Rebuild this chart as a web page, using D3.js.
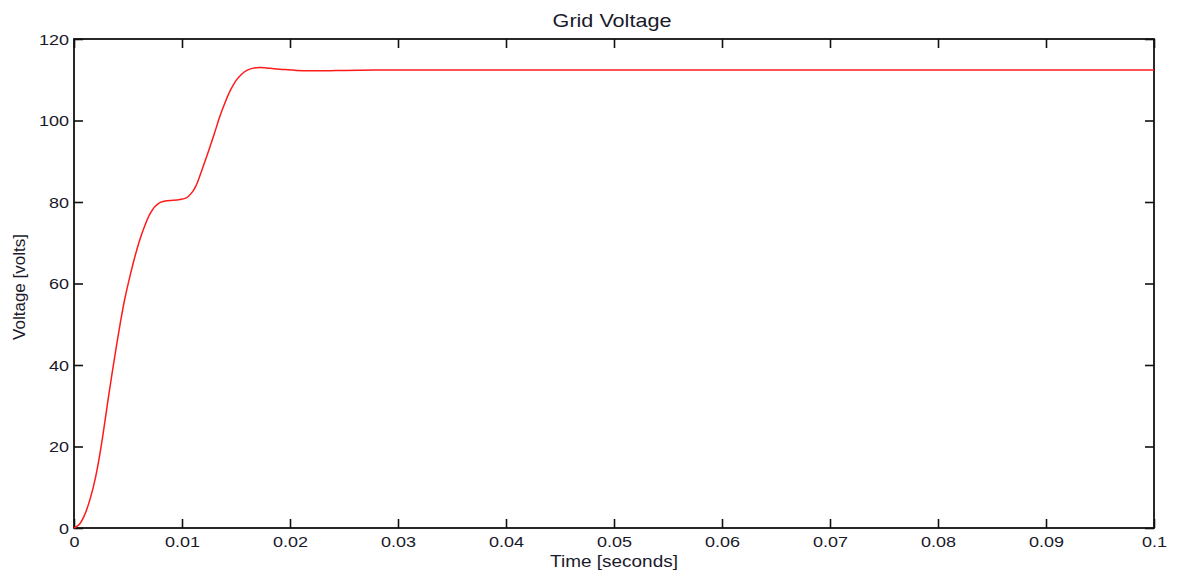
<!DOCTYPE html>
<html><head><meta charset="utf-8">
<script src="https://cdn.jsdelivr.net/npm/d3@7"></script>
<style>
html,body{margin:0;padding:0;background:#fff;}
text{font-family:"Liberation Sans",Arial,sans-serif;fill:#1a1a2a;}
</style></head>
<body><svg id="c" width="1177" height="572"></svg>
<script>
const times = [0, 0.0005, 0.001, 0.0015, 0.002, 0.0024, 0.0027, 0.0031, 0.0035, 0.0039, 0.0043, 0.0047, 0.0052, 0.0056, 0.0061, 0.0066, 0.007, 0.0075, 0.008, 0.0086, 0.0092, 0.0098, 0.0104, 0.011, 0.0113, 0.0116, 0.012, 0.0125, 0.013, 0.0135, 0.014, 0.0145, 0.015, 0.0155, 0.016, 0.0166, 0.0172, 0.0178, 0.0185, 0.0195, 0.0206, 0.022, 0.0234, 0.025, 0.028, 0.035, 0.05, 0.1];
const volts = [0, 0.9, 3.3, 7.2, 12.5, 18.2, 23.2, 30.5, 37.5, 44.2, 50.5, 56.2, 62.0, 66.2, 70.8, 74.5, 76.9, 78.9, 79.9, 80.3, 80.4, 80.6, 81.0, 82.6, 84.0, 86.0, 89.0, 92.8, 96.8, 101.0, 104.5, 107.5, 109.8, 111.3, 112.3, 112.85, 113.0, 112.9, 112.7, 112.5, 112.3, 112.2, 112.2, 112.3, 112.4, 112.4, 112.4, 112.4];
const xTicks = [0,0.01,0.02,0.03,0.04,0.05,0.06,0.07,0.08,0.09,0.1];
const xTickLabels = ["0","0.01","0.02","0.03","0.04","0.05","0.06","0.07","0.08","0.09","0.1"];
const yTicks = [0,20,40,60,80,100,120];
const chartTitle = "Grid Voltage";
const xLabel = "Time [seconds]";
const yLabel = "Voltage [volts]";

const L=74, R=1154, T=39, B=528;
const svg = d3.select("#c");
const x = d3.scaleLinear().domain([0,0.1]).range([L,R]);
const y = d3.scaleLinear().domain([0,120]).range([B,T]);
const tl = 9;

const axB = d3.axisBottom(x).tickValues(xTicks).tickFormat((d,i)=>xTickLabels[i]).tickSizeInner(-tl).tickSizeOuter(0);
const axT = d3.axisTop(x).tickValues(xTicks).tickFormat("").tickSizeInner(-tl).tickSizeOuter(0);
const axL = d3.axisLeft(y).tickValues(yTicks).tickSizeInner(-tl).tickSizeOuter(0);
const axR = d3.axisRight(y).tickValues(yTicks).tickFormat("").tickSizeInner(-tl).tickSizeOuter(0);

function style(g){
  g.select(".domain").remove();
  g.selectAll("line").attr("stroke","#111").attr("stroke-width",1.6);
  g.selectAll("text").style("font-size","15px").attr("fill","#1a1a2a");
}
svg.append("g").attr("transform",`translate(0,${B})`).call(axB).call(style)
  .selectAll("text").attr("y",0).attr("dy",null).attr("transform","translate(0,19) scale(1.2,1)");
svg.append("g").attr("transform",`translate(0,${T})`).call(axT).call(style);
svg.append("g").attr("transform",`translate(${L},0)`).call(axL).call(style)
  .selectAll("text").attr("x",0).attr("dy","0.36em").attr("transform","translate(-5,0) scale(1.2,1)");
svg.append("g").attr("transform",`translate(${R},0)`).call(axR).call(style);

svg.append("rect").attr("x",L).attr("y",T).attr("width",R-L).attr("height",B-T)
  .attr("fill","none").attr("stroke","#111").attr("stroke-width",1.8);

const data = times.map((t,i)=>({t, v:volts[i]}));
const line = d3.line().x(d=>x(d.t)).y(d=>y(d.v)).curve(d3.curveCatmullRom.alpha(0.5));
svg.append("path").datum(data).attr("d",line).attr("fill","none")
  .attr("stroke","#ff1a1a").attr("stroke-width",1.5);

svg.append("text").attr("transform","translate(612,27) scale(1.2,1)").attr("text-anchor","middle")
  .style("font-size","18px").text(chartTitle);
svg.append("text").attr("transform","translate(614,567) scale(1.15,1)").attr("text-anchor","middle")
  .style("font-size","16.5px").text(xLabel);
svg.append("text").attr("transform","translate(25,287) rotate(-90)").attr("text-anchor","middle")
  .style("font-size","17px").text(yLabel);
</script></body></html>
